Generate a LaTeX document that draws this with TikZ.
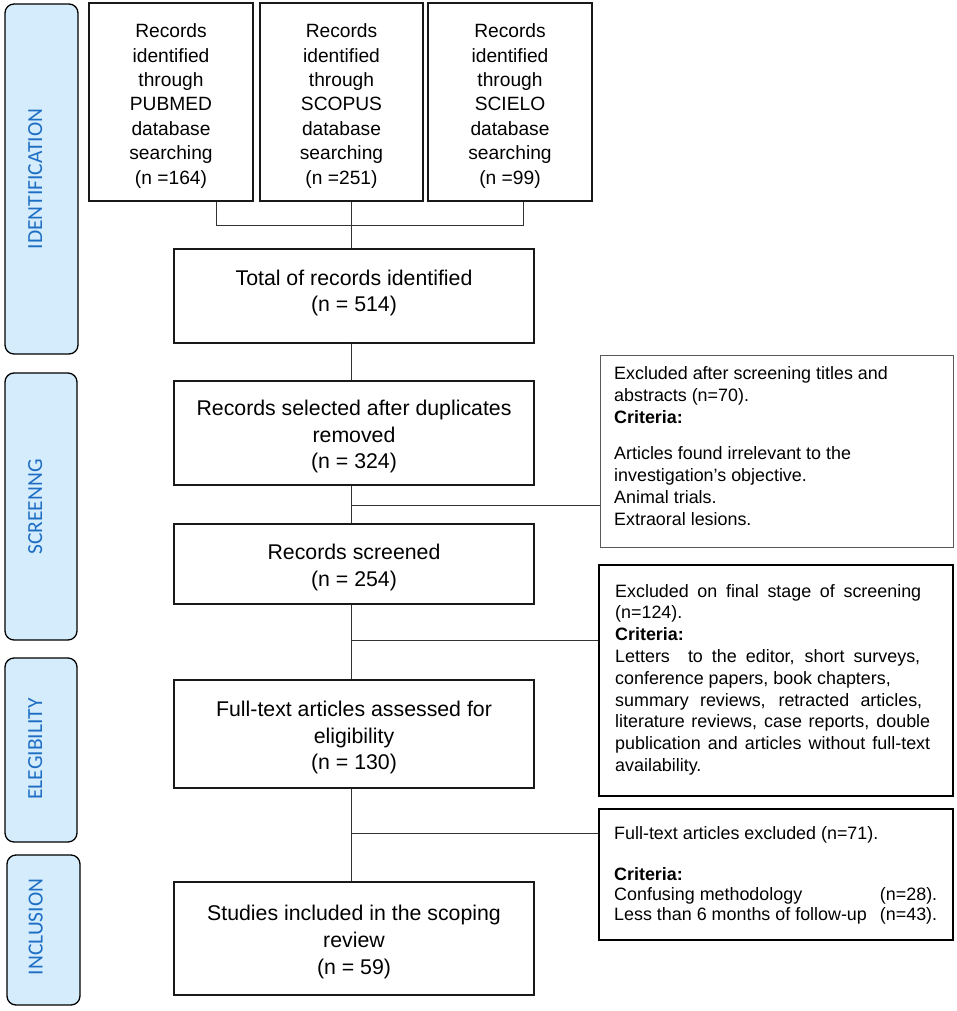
\documentclass[tikz,border=0pt]{standalone}
\usepackage{fontspec}
\setmainfont{Liberation Sans}
\newfontfamily\sidefont{Carlito}
\definecolor{sideblue}{RGB}{30,110,196}
\definecolor{sidefill}{RGB}{212,236,252}
\newcommand{\exfont}{\fontsize{17.9}{21.8}\selectfont}
\newcommand{\exfontc}{\fontsize{17.9}{20.3}\selectfont}
\begin{document}
\begin{tikzpicture}[x=1pt,y=-1pt,
  sidebox/.style={draw=black, line width=1.3pt, rounded corners=9pt, fill=sidefill, inner sep=0},
  sidetxt/.style={rotate=90, anchor=base, inner sep=0, text=sideblue, font=\sidefont\fontsize{21.5}{24}\selectfont},
  srcbox/.style={draw=black!90, line width=1.2pt, inner sep=0, minimum height=198},
  srctxt/.style={inner sep=0, align=center, font=\fontsize{19.2}{24.4}\selectfont},
  midbox/.style={draw=black!90, line width=1.2pt, inner sep=0, minimum width=360},
  midtxt/.style={inner sep=0, align=center, font=\fontsize{21.3}{26.8}\selectfont},
  exbox/.style={draw=black, line width=1.4pt, inner sep=0},
  extxt/.style={inner sep=0, anchor=base west},
  link/.style={draw=black!80, line width=1pt}
]
\useasboundingbox (0,0) rectangle (957,1011);

% phase labels
\node[sidebox, minimum width=73, minimum height=350] (idbox) at (41.5,179) {};
\node[sidetxt] (idtxt) at (42,179) {IDENTIFICATION};
\node[sidebox, minimum width=72, minimum height=267] (scbox) at (41,506.5) {};
\node[sidetxt] (sctxt) at (42,507) {SCREENNG};
\node[sidebox, minimum width=72, minimum height=184] (elbox) at (41,750) {};
\node[sidetxt] (eltxt) at (42,749) {ELEGIBILITY};
\node[sidebox, minimum width=73, minimum height=150] (inbox) at (43.5,930) {};
\node[sidetxt] (intxt) at (42.5,927) {INCLUSION};

% source boxes
\node[srcbox, minimum width=164] (src1) at (171,102) {};
\node[srctxt] (src1t) at (171,106) {Records\\identified\\through\\PUBMED\\database\\searching\\(n =164)};
\node[srcbox, minimum width=163] (src2) at (341.5,102) {};
\node[srctxt] (src2t) at (341.5,106) {Records\\identified\\through\\SCOPUS\\database\\searching\\(n =251)};
\node[srcbox, minimum width=164] (src3) at (510,102) {};
\node[srctxt] (src3t) at (510,106) {Records\\identified\\through\\SCIELO\\database\\searching\\(n =99)};

% main column
\node[midbox, minimum height=94] (total) at (354,296) {};
\node[midtxt] (totalt) at (354,293) {Total of records identified\\(n = 514)};
\node[midbox, minimum height=104] (sel) at (354,433) {};
\node[midtxt] (selt) at (354,436.5) {Records selected after duplicates\\removed\\(n = 324)};
\node[midbox, minimum height=80] (scr) at (354,564) {};
\node[midtxt] (scrt) at (354,567.5) {Records screened\\(n = 254)};
\node[midbox, minimum height=108] (full) at (354,734) {};
\node[midtxt] (fullt) at (354,737.5) {Full-text articles assessed for\\eligibility\\(n = 130)};
\node[midbox, minimum height=113] (stud) at (354,938.5) {};
\node[midtxt] (studt) at (354,942) {Studies included in the scoping\\review\\(n = 59)};

% exclusion boxes
\node[exbox, draw=black!65, line width=1pt, minimum width=353, minimum height=192] (exA) at (776.5,451) {};
\node[extxt] (exAt) at (614,379.5) {\begin{minipage}[t]{330pt}\exfont
Excluded after screening titles and\\
abstracts (n=70).\\
\textbf{Criteria:}\\[15pt]
Articles found irrelevant to the\\
investigation’s objective.\\
Animal trials.\\
Extraoral lesions.
\end{minipage}};

\node[exbox, minimum width=354, minimum height=231] (exB) at (776,680.5) {};
\node[extxt] (exBt) at (615,597) {\begin{minipage}[t]{330pt}\exfont
\makebox[306pt][s]{Excluded on final stage of screening}\\
(n=124).\\
\textbf{Criteria:}\\
\makebox[305pt][s]{Letters\ \ to the editor, short surveys,}\\
conference papers, book chapters,\\
\makebox[307pt][s]{summary reviews, retracted articles,}\\
\makebox[315pt][s]{literature reviews, case reports, double}\\
\makebox[315pt][s]{publication and articles without full-text}\\
availability.
\end{minipage}};

\node[exbox, minimum width=354, minimum height=131] (exC) at (776,874.5) {};
\node[extxt] (exCt) at (614,839.5) {\begin{minipage}[t]{330pt}\exfontc
Full-text articles excluded (n=71).\\[20.3pt]
\textbf{Criteria:}\\
\makebox[323pt]{Confusing methodology\hfill(n=28).}\\
\makebox[323pt]{Less than 6 months of follow-up\hfill(n=43).}
\end{minipage}};

% connectors
\coordinate (spine) at (351,0);
\coordinate (j1) at (216,225);
\coordinate (j3) at (523,225);
\draw[link] (src1.south -| j1) -- (j1) -- (j3) -- (src3.south -| j3);
\draw[link] (src2.south -| spine) -- (total.north -| spine);
\draw[link] (total.south -| spine) -- (sel.north -| spine);
\draw[link] (sel.south -| spine) -- (scr.north -| spine);
\coordinate (bA) at (351,505);
\draw[link] (bA) -- (bA -| exA.west);
\draw[link] (scr.south -| spine) -- (full.north -| spine);
\coordinate (bB) at (351,640);
\draw[link] (bB) -- (bB -| exB.west);
\draw[link] (full.south -| spine) -- (stud.north -| spine);
\coordinate (bC) at (351,833);
\draw[link] (bC) -- (bC -| exC.west);
\end{tikzpicture}
\end{document}
